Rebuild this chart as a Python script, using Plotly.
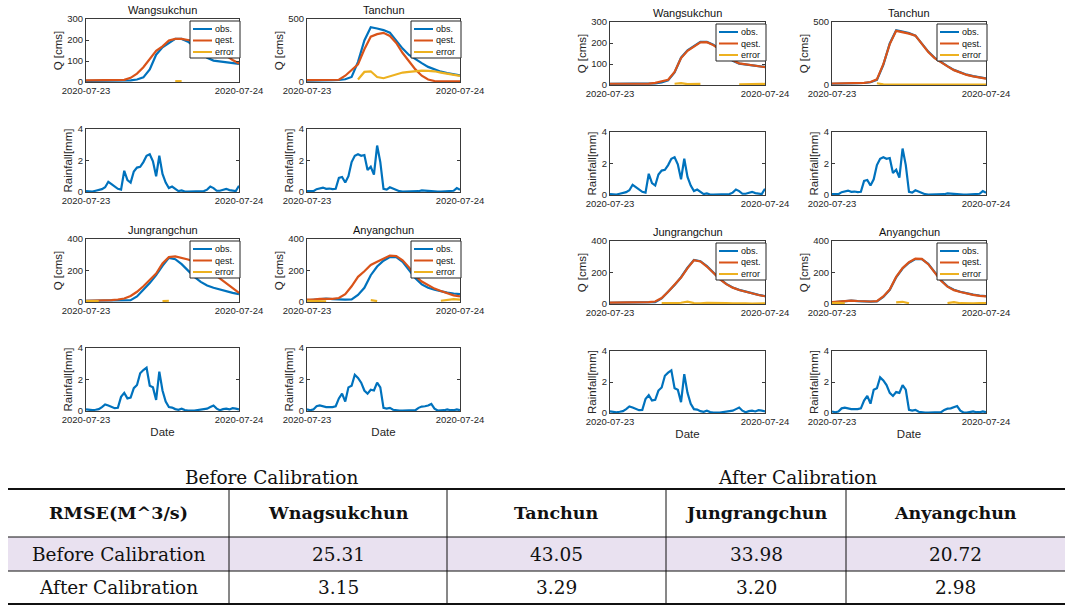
import plotly.graph_objects as go
import pandas as pd

W, H = 1073, 611

# ---------------- data ----------------
stations = ["Wangsukchun", "Tanchun", "Jungrangchun", "Anyangchun"]
series_names = ["obs.", "qest.", "error"]
hours = pd.date_range("2020-07-23 00:00", periods=25, freq="h")
half_hours = pd.date_range("2020-07-23 00:00", periods=49, freq="30min")
x_tick_vals = ["2020-07-23", "2020-07-24"]
x_tick_text = ["2020-07-23", "2020-07-24"]

q_ymax = [300, 500, 400, 400]
q_ticks = [[0, 100, 200, 300], [0, 500], [0, 200, 400], [0, 200, 400]]
rain_ymax = 4
rain_ticks = [0, 2, 4]

wang_obs = [5, 5, 5, 5, 5, 5, 6, 8, 12, 22, 60, 130, 165, 185, 205, 205, 192, 168, 140, 115, 102, 98, 95, 90, 86]
wang_qest_before = [8, 8, 8, 8, 8, 8, 10, 20, 40, 70, 110, 148, 170, 198, 205, 205, 200, 195, 185, 170, 155, 140, 125, 105, 88]
wang_err_before = [None] * 14 + [4, 4] + [None] * 9
wang_qest_after = [6, 6, 6, 6, 6, 6, 7, 10, 16, 25, 62, 128, 163, 184, 203, 204, 190, 170, 142, 117, 103, 98, 94, 89, 85]
wang_err_after = [None] * 10 + [6, 9, 4, 3, 5] + [None] * 5 + [3, 4, 3, 4, 5]

tan_obs = [10, 10, 12, 12, 14, 16, 22, 40, 160, 330, 435, 425, 412, 392, 325, 265, 215, 180, 150, 120, 98, 82, 70, 60, 52]
tan_qest_before = [15, 15, 15, 15, 15, 18, 50, 95, 140, 260, 360, 380, 390, 365, 310, 230, 160, 100, 50, 20, 8, 5, 5, 5, 5]
tan_err_before = [None] * 8 + [20, 80, 85, 40, 30, 45, 60, 75, 80, 85, 90, 88, 85, 75, 65, 55, 48]
tan_qest_after = [12, 12, 13, 13, 15, 17, 24, 45, 165, 325, 430, 422, 408, 392, 322, 262, 213, 178, 148, 118, 96, 80, 68, 58, 50]
tan_err_after = [None] * 7 + [14, 5, 4, 3, 4, 3, 3, 4, 3, 3, 3, 4, 3, 3, 3, 3, 3, 3]

jung_obs = [8, 8, 8, 8, 8, 8, 8, 12, 35, 75, 120, 170, 230, 280, 272, 240, 200, 160, 128, 105, 90, 78, 68, 58, 50]
jung_qest_before = [8, 8, 8, 8, 12, 16, 22, 38, 65, 100, 140, 180, 245, 285, 290, 282, 270, 255, 235, 210, 180, 150, 115, 85, 58]
jung_err_before = [6, 6, 6] + [None] * 9 + [6, 8] + [None] * 11
jung_qest_after = [9, 9, 9, 9, 9, 9, 12, 16, 38, 78, 122, 168, 228, 278, 270, 238, 198, 158, 126, 104, 89, 77, 66, 57, 49]
jung_err_after = [None] * 8 + [6, 4, 5, 8, 15, 6, 4, 7, 5, 3, 5, 4, 6, 4, 3, 5, 4]

any_obs = [10, 14, 20, 22, 18, 15, 15, 17, 45, 90, 170, 225, 262, 285, 285, 255, 200, 150, 112, 90, 78, 68, 60, 54, 50]
any_qest_before = [15, 15, 20, 20, 20, 25, 50, 100, 160, 195, 235, 255, 275, 295, 292, 265, 220, 165, 130, 105, 85, 70, 55, 42, 35]
any_err_before = [8, 8, 6, 4] + [None] * 6 + [12, 6] + [None] * 9 + [8, 15, 18, 15]
any_qest_after = [12, 15, 20, 22, 19, 16, 16, 18, 48, 92, 172, 228, 265, 288, 287, 253, 198, 148, 110, 88, 76, 66, 58, 52, 48]
any_err_after = [6, 8, 4] + [None] * 7 + [10, 14, 5] + [None] * 5 + [6, 12, 5, 3, 4, 6, 5]

wang_rain = [0.05, 0.05, 0.03, 0.08, 0.12, 0.18, 0.30, 0.65, 0.50, 0.35, 0.20, 0.15, 1.35, 0.75, 0.60, 1.30,
             1.55, 1.60, 1.90, 2.30, 2.40, 1.95, 1.00, 2.30, 1.15, 0.60, 0.25, 0.35, 0.20, 0.06, 0.10, 0.03,
             0.02, 0.02, 0.02, 0.02, 0.03, 0.06, 0.15, 0.35, 0.25, 0.08, 0.08, 0.15, 0.20, 0.12, 0.08, 0.06, 0.40]
tan_rain = [0.05, 0.05, 0.05, 0.18, 0.22, 0.28, 0.20, 0.22, 0.18, 0.20, 0.90, 0.95, 0.60, 1.00, 1.90, 2.30,
            2.40, 2.30, 2.35, 1.40, 1.60, 1.10, 2.95, 1.90, 0.20, 0.15, 0.30, 0.20, 0.15, 0.05, 0.02, 0.02,
            0.02, 0.02, 0.02, 0.05, 0.10, 0.08, 0.05, 0.03, 0.02, 0.02, 0.03, 0.05, 0.05, 0.10, 0.08, 0.25, 0.15]
jung_rain = [0.10, 0.08, 0.05, 0.08, 0.12, 0.25, 0.42, 0.35, 0.25, 0.18, 0.20, 0.90, 1.15, 0.80, 0.85, 1.45,
             1.65, 2.40, 2.60, 2.75, 1.60, 1.50, 0.70, 2.50, 1.30, 0.60, 0.25, 0.22, 0.12, 0.08, 0.15, 0.06,
             0.03, 0.02, 0.03, 0.06, 0.10, 0.12, 0.15, 0.25, 0.35, 0.15, 0.05, 0.12, 0.15, 0.10, 0.18, 0.15, 0.10]
any_rain = [0.10, 0.05, 0.10, 0.30, 0.35, 0.30, 0.25, 0.25, 0.25, 0.30, 0.80, 1.10, 0.60, 1.50, 1.60, 2.30,
            2.10, 1.80, 1.30, 1.10, 1.35, 1.30, 1.80, 1.50, 0.20, 0.15, 0.20, 0.08, 0.03, 0.02, 0.02, 0.02,
            0.02, 0.02, 0.05, 0.20, 0.28, 0.30, 0.35, 0.45, 0.15, 0.03, 0.02, 0.05, 0.10, 0.05, 0.05, 0.10, 0.05]

panel_titles = ["Before Calibration", "After Calibration"]
table_header = ["RMSE(M^3/s)", "Wnagsukchun", "Tanchun", "Jungrangchun", "Anyangchun"]
row_labels = ["Before Calibration", "After Calibration"]
rmse_before = [25.31, 43.05, 33.98, 20.72]
rmse_after = [3.15, 3.29, 3.20, 2.98]

# ---------------- assemble ----------------
obs = [wang_obs, tan_obs, jung_obs, any_obs]
rain = [wang_rain, tan_rain, jung_rain, any_rain]
sides = [
    dict(qest=[wang_qest_before, tan_qest_before, jung_qest_before, any_qest_before],
         err=[wang_err_before, tan_err_before, jung_err_before, any_err_before],
         cols=[(86, 239), (307, 460)], rows=[(19, 82), (129, 192), (239, 302), (348, 411)]),
    dict(qest=[wang_qest_after, tan_qest_after, jung_qest_after, any_qest_after],
         err=[wang_err_after, tan_err_after, jung_err_after, any_err_after],
         cols=[(610, 765), (832, 986)], rows=[(22, 85), (132, 195), (241, 304), (351, 413)]),
]

C_OBS, C_QEST, C_ERR = "#0072BD", "#D95319", "#EDB120"
AX_COL = "#3a3a3a"
TXT = "#262626"
FONT = "Liberation Sans, Arial, sans-serif"
SERIF = "DejaVu Serif, serif"

fig = go.Figure()
layout = {}
shapes = []
annotations = []


def px(x):
    return x / W


def py(y):
    return 1 - y / H


def axis_common():
    return dict(showline=True, linecolor=AX_COL, linewidth=1, mirror="ticks", ticks="inside",
                ticklen=3, tickcolor=AX_COL, showgrid=False, zeroline=False, automargin=False,
                tickfont=dict(family=FONT, size=9.5, color=TXT))


n = 0


def add_axes(xb, yb, ymax, yticks, ytitle, xtitle=None):
    global n
    n += 1
    xa = axis_common()
    xa.update(type="date", range=["2020-07-23", "2020-07-24"], tickvals=x_tick_vals, ticktext=x_tick_text,
              domain=[px(xb[0]), px(xb[1])], anchor="y%d" % n)
    if xtitle:
        xa["title"] = dict(text=xtitle, font=dict(family=FONT, size=11.5, color=TXT), standoff=3)
    ya = axis_common()
    ya.update(range=[0, ymax], tickvals=yticks, domain=[py(yb[1]), py(yb[0])], anchor="x%d" % n,
              title=dict(text=ytitle, font=dict(family=FONT, size=11.5, color=TXT), standoff=2))
    layout["xaxis%d" % n if n > 1 else "xaxis"] = xa
    layout["yaxis%d" % n if n > 1 else "yaxis"] = ya
    return "x%d" % n if n > 1 else "x", "y%d" % n if n > 1 else "y"


def add_legend(xb, yb):
    bx0, bx1 = xb[1] - 49, xb[1] + 1
    by0, by1 = yb[0] + 2, yb[0] + 39
    shapes.append(dict(type="rect", xref="paper", yref="paper", x0=px(bx0), x1=px(bx1), y0=py(by1), y1=py(by0),
                       line=dict(color="#222", width=1), fillcolor="white", layer="above"))
    for k, (name, col) in enumerate(zip(series_names, [C_OBS, C_QEST, C_ERR])):
        yy = by0 + 8 + k * 11.5
        shapes.append(dict(type="line", xref="paper", yref="paper", x0=px(bx0 + 3), x1=px(bx0 + 22),
                           y0=py(yy), y1=py(yy), line=dict(color=col, width=2), layer="above"))
        annotations.append(dict(text=name, xref="paper", yref="paper", x=px(bx0 + 23), y=py(yy),
                                xanchor="left", yanchor="middle", showarrow=False,
                                font=dict(family=FONT, size=9, color="#111")))


for side in sides:
    for i, st in enumerate(stations):
        xb = side["cols"][i % 2]
        qrow = side["rows"][2 * (i // 2)]
        rrow = side["rows"][2 * (i // 2) + 1]
        xr, yr = add_axes(xb, qrow, q_ymax[i], q_ticks[i], "Q [cms]")
        for vals, col in zip([obs[i], side["qest"][i], side["err"][i]], [C_OBS, C_QEST, C_ERR]):
            fig.add_trace(go.Scatter(x=hours, y=vals, mode="lines", line=dict(color=col, width=2.2),
                                     xaxis=xr, yaxis=yr, showlegend=False, connectgaps=False))
        annotations.append(dict(text=st, xref="paper", yref="paper", x=px((xb[0] + xb[1]) / 2),
                                y=py(qrow[0] - 1), xanchor="center", yanchor="bottom", showarrow=False,
                                font=dict(family=FONT, size=11, color="#111")))
        add_legend(xb, qrow)
        xr, yr = add_axes(xb, rrow, rain_ymax, rain_ticks, "Rainfall[mm]",
                          "Date" if i >= 2 else None)
        fig.add_trace(go.Scatter(x=half_hours, y=rain[i], mode="lines", line=dict(color=C_OBS, width=2.2),
                                 xaxis=xr, yaxis=yr, showlegend=False))

# ---------------- table ----------------
col_edges = [8, 229, 447, 666, 846, 1065]
row_edges = [489, 537, 571, 604]
caption_pos = [271, 797]
for t, cx in zip(panel_titles, caption_pos):
    annotations.append(dict(text=t, xref="paper", yref="paper", x=px(cx), y=py(477), xanchor="center",
                            yanchor="middle", showarrow=False, font=dict(family=SERIF, size=18.5, color="#111")))
shapes.append(dict(type="rect", xref="paper", yref="paper", x0=px(col_edges[0]), x1=px(col_edges[-1]),
                   y0=py(row_edges[2]), y1=py(row_edges[1]), fillcolor="#E9E1F0", line=dict(width=0), layer="below"))
for k, yy in enumerate(row_edges):
    shapes.append(dict(type="line", xref="paper", yref="paper", x0=px(col_edges[0]), x1=px(col_edges[-1]),
                       y0=py(yy), y1=py(yy), line=dict(color="#111", width=2 if k in (0, 3) else 1)))
for xx in col_edges[1:-1]:
    shapes.append(dict(type="line", xref="paper", yref="paper", x0=px(xx), x1=px(xx),
                       y0=py(row_edges[-1]), y1=py(row_edges[0]), line=dict(color="#111", width=1)))
rows_text = [table_header,
             [row_labels[0]] + ["%.2f" % v for v in rmse_before],
             [row_labels[1]] + ["%.2f" % v for v in rmse_after]]
for r, cells in enumerate(rows_text):
    cy = (row_edges[r] + row_edges[r + 1]) / 2
    for c, txt in enumerate(cells):
        cx = (col_edges[c] + col_edges[c + 1]) / 2
        annotations.append(dict(text="<b>%s</b>" % txt if r == 0 else txt, xref="paper", yref="paper",
                                x=px(cx), y=py(cy), xanchor="center", yanchor="middle", showarrow=False,
                                font=dict(family=SERIF, size=17.5 if r == 0 else 18.5, color="#111")))

fig.update_layout(width=W, height=H, margin=dict(l=0, r=0, t=0, b=0), paper_bgcolor="white",
                  plot_bgcolor="white", showlegend=False, shapes=shapes, annotations=annotations, **layout)
fig.write_html("out.html", config={"displayModeBar": False},
               post_script="document.body.style.margin='0';")
